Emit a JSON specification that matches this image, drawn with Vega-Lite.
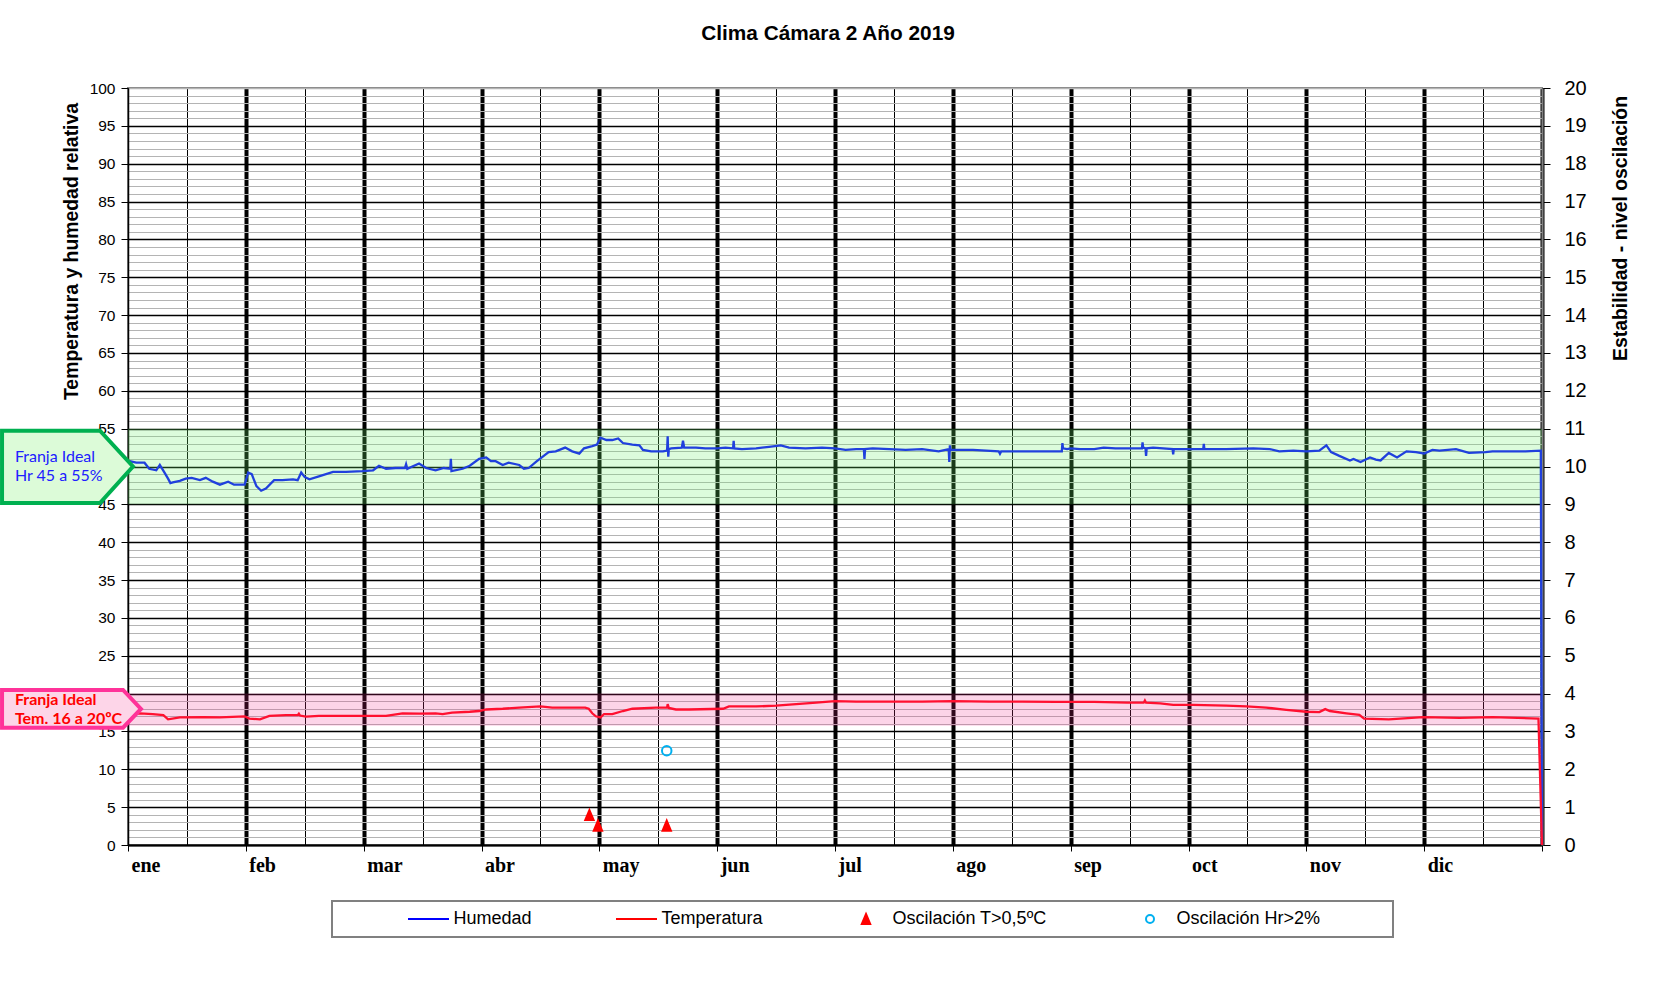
{
  "$schema": "https://vega.github.io/schema/vega-lite/v6.json",
  "width": 1414,
  "height": 757,
  "autosize": "none",
  "padding": {"left": 128, "top": 88, "right": 118, "bottom": 150},
  "background": "#ffffff",
  "title": {"text": "Clima Cámara 2 Año 2019", "anchor": "middle", "frame": "group", "offset": 17, "dx": -7, "baseline": "alphabetic", "font": "Liberation Sans", "fontSize": 20.8, "fontWeight": "bold", "color": "#000000"},
  "config": {
    "view": {"stroke": "#808080", "strokeWidth": 2},
    "legend": {"strokeColor": "#808080", "strokeWidth": 2}
  },
  "datasets": {
    "hum": [
      {"m":0,"v":50.8},{"m":0.014,"v":50.7},{"m":0.07,"v":50.5},{"m":0.14,"v":50.5},{"m":0.18,"v":49.7},{"m":0.24,"v":49.5},{"m":0.27,"v":50.2},{"m":0.31,"v":49.2},{"m":0.34,"v":48.4},{"m":0.36,"v":47.8},{"m":0.38,"v":47.9},{"m":0.44,"v":48.1},{"m":0.49,"v":48.4},{"m":0.54,"v":48.5},{"m":0.61,"v":48.2},{"m":0.66,"v":48.5},{"m":0.72,"v":48.0},{"m":0.78,"v":47.6},{"m":0.85,"v":48.0},{"m":0.9,"v":47.6},{"m":0.99,"v":47.6},{"m":1.02,"v":49.2},{"m":1.05,"v":49.0},{"m":1.09,"v":47.4},{"m":1.13,"v":46.8},{"m":1.17,"v":47.1},{"m":1.24,"v":48.2},{"m":1.31,"v":48.2},{"m":1.4,"v":48.3},{"m":1.44,"v":48.2},{"m":1.47,"v":49.2},{"m":1.5,"v":48.6},{"m":1.54,"v":48.3},{"m":1.62,"v":48.7},{"m":1.74,"v":49.3},{"m":1.85,"v":49.3},{"m":1.99,"v":49.4},{"m":2.08,"v":49.5},{"m":2.13,"v":50.1},{"m":2.19,"v":49.7},{"m":2.27,"v":49.8},{"m":2.35,"v":49.8},{"m":2.36,"v":50.3},{"m":2.37,"v":49.7},{"m":2.47,"v":50.4},{"m":2.53,"v":49.8},{"m":2.61,"v":49.5},{"m":2.68,"v":49.8},{"m":2.735,"v":49.7},{"m":2.74,"v":51.0},{"m":2.745,"v":49.4},{"m":2.84,"v":49.7},{"m":2.9,"v":50.1},{"m":2.98,"v":51.0},{"m":3.04,"v":51.2},{"m":3.08,"v":50.7},{"m":3.12,"v":50.7},{"m":3.18,"v":50.2},{"m":3.23,"v":50.5},{"m":3.32,"v":50.2},{"m":3.36,"v":49.7},{"m":3.4,"v":49.8},{"m":3.47,"v":50.7},{"m":3.57,"v":51.9},{"m":3.63,"v":52.0},{"m":3.71,"v":52.5},{"m":3.77,"v":52.0},{"m":3.83,"v":51.7},{"m":3.87,"v":52.4},{"m":3.94,"v":52.7},{"m":3.98,"v":52.9},
      {"m":4.01,"v":53.8},{"m":4.06,"v":53.5},{"m":4.11,"v":53.5},{"m":4.16,"v":53.7},{"m":4.2,"v":53.1},{"m":4.28,"v":52.9},{"m":4.34,"v":52.8},{"m":4.37,"v":52.2},{"m":4.44,"v":52.0},{"m":4.54,"v":52.0},{"m":4.575,"v":52.1},{"m":4.58,"v":54.0},{"m":4.585,"v":51.3},{"m":4.59,"v":52.3},{"m":4.61,"v":52.4},{"m":4.7,"v":52.5},{"m":4.71,"v":53.4},{"m":4.72,"v":52.5},{"m":4.82,"v":52.5},{"m":4.9,"v":52.4},{"m":5.0,"v":52.4},{"m":5.07,"v":52.5},{"m":5.135,"v":52.4},{"m":5.14,"v":53.4},{"m":5.145,"v":52.4},{"m":5.21,"v":52.3},{"m":5.33,"v":52.4},{"m":5.44,"v":52.6},{"m":5.54,"v":52.8},{"m":5.61,"v":52.5},{"m":5.75,"v":52.4},{"m":5.89,"v":52.5},{"m":6.0,"v":52.4},{"m":6.09,"v":52.2},{"m":6.18,"v":52.3},{"m":6.245,"v":52.3},{"m":6.25,"v":51.0},{"m":6.255,"v":52.3},{"m":6.32,"v":52.4},{"m":6.46,"v":52.3},{"m":6.6,"v":52.2},{"m":6.74,"v":52.3},{"m":6.88,"v":52.0},{"m":6.965,"v":52.3},{"m":6.97,"v":50.6},{"m":6.975,"v":52.8},{"m":6.98,"v":52.2},{"m":7.03,"v":52.2},{"m":7.17,"v":52.2},{"m":7.39,"v":52.0},{"m":7.4,"v":51.7},{"m":7.41,"v":52.0},{"m":7.59,"v":52.0},{"m":7.87,"v":52.0},{"m":7.925,"v":52.0},{"m":7.93,"v":53.1},{"m":7.935,"v":52.4},{"m":7.97,"v":52.3},
      {"m":8.0,"v":52.4},{"m":8.08,"v":52.3},{"m":8.2,"v":52.3},{"m":8.28,"v":52.5},{"m":8.38,"v":52.4},{"m":8.48,"v":52.4},{"m":8.605,"v":52.4},{"m":8.61,"v":53.2},{"m":8.615,"v":52.5},{"m":8.635,"v":52.4},{"m":8.64,"v":51.4},{"m":8.645,"v":52.4},{"m":8.7,"v":52.5},{"m":8.865,"v":52.3},{"m":8.87,"v":51.6},{"m":8.875,"v":52.3},{"m":9.0,"v":52.3},{"m":9.125,"v":52.3},{"m":9.13,"v":53.0},{"m":9.135,"v":52.3},{"m":9.32,"v":52.3},{"m":9.55,"v":52.4},{"m":9.69,"v":52.3},{"m":9.77,"v":52.0},{"m":9.89,"v":52.1},{"m":10.0,"v":52.0},{"m":10.11,"v":52.1},{"m":10.17,"v":52.8},{"m":10.21,"v":51.9},{"m":10.28,"v":51.4},{"m":10.37,"v":50.8},{"m":10.4,"v":51.0},{"m":10.46,"v":50.6},{"m":10.54,"v":51.2},{"m":10.59,"v":50.9},{"m":10.63,"v":50.8},{"m":10.7,"v":51.8},{"m":10.77,"v":51.2},{"m":10.85,"v":52.0},{"m":10.93,"v":51.9},{"m":11.0,"v":51.7},{"m":11.07,"v":52.2},{"m":11.13,"v":52.1},{"m":11.27,"v":52.3},{"m":11.38,"v":51.8},{"m":11.52,"v":51.9},{"m":11.58,"v":52.0},{"m":11.72,"v":52.0},{"m":11.86,"v":52.0},{"m":11.99,"v":52.1},{"m":12.0,"v":0}
    ],
    "tem": [
      {"m":0,"v":17.3},{"m":0.1,"v":17.4},{"m":0.21,"v":17.3},{"m":0.3,"v":17.15},{"m":0.34,"v":16.6},{"m":0.44,"v":16.85},{"m":0.64,"v":16.9},{"m":0.78,"v":16.85},{"m":0.99,"v":17.0},{"m":1.03,"v":16.7},{"m":1.12,"v":16.6},{"m":1.2,"v":17.05},{"m":1.34,"v":17.15},{"m":1.44,"v":17.15},{"m":1.45,"v":17.35},{"m":1.46,"v":17.1},{"m":1.51,"v":16.95},{"m":1.62,"v":17.05},{"m":1.77,"v":17.05},{"m":1.99,"v":17.05},{"m":2.19,"v":17.05},{"m":2.33,"v":17.4},{"m":2.47,"v":17.35},{"m":2.61,"v":17.4},{"m":2.67,"v":17.3},{"m":2.75,"v":17.5},{"m":2.9,"v":17.6},{"m":2.98,"v":17.7},{"m":3.04,"v":17.9},{"m":3.18,"v":18.0},{"m":3.32,"v":18.15},{"m":3.5,"v":18.3},{"m":3.6,"v":18.15},{"m":3.88,"v":18.15},{"m":3.91,"v":18.0},{"m":3.94,"v":17.4},{"m":3.97,"v":17.0},{"m":4.01,"v":16.85},{"m":4.04,"v":17.3},{"m":4.11,"v":17.3},{"m":4.2,"v":17.7},{"m":4.28,"v":18.0},{"m":4.48,"v":18.15},{"m":4.575,"v":18.15},{"m":4.58,"v":18.6},{"m":4.59,"v":18.1},{"m":4.65,"v":17.9},{"m":4.76,"v":17.9},{"m":5.05,"v":18.0},{"m":5.1,"v":18.3},{"m":5.33,"v":18.3},{"m":5.5,"v":18.4},{"m":5.67,"v":18.6},{"m":5.84,"v":18.8},{"m":6.0,"v":19.0},{"m":6.18,"v":18.95},{"m":6.46,"v":18.95},{"m":6.74,"v":18.95},{"m":7.0,"v":19.0},{"m":7.31,"v":18.95},{"m":7.59,"v":18.95},{"m":7.87,"v":18.9},{"m":8.2,"v":18.9},{"m":8.48,"v":18.8},{"m":8.62,"v":18.8},{"m":8.63,"v":19.1},{"m":8.64,"v":18.8},{"m":8.76,"v":18.7},{"m":8.87,"v":18.5},{"m":9.04,"v":18.5},{"m":9.32,"v":18.4},{"m":9.49,"v":18.3},{"m":9.66,"v":18.15},{"m":9.83,"v":17.85},{"m":10.0,"v":17.6},{"m":10.11,"v":17.55},{"m":10.16,"v":17.95},{"m":10.2,"v":17.7},{"m":10.34,"v":17.4},{"m":10.45,"v":17.2},{"m":10.49,"v":16.7},{"m":10.7,"v":16.6},{"m":10.99,"v":16.9},{"m":11.3,"v":16.8},{"m":11.58,"v":16.9},{"m":11.97,"v":16.7},{"m":12.0,"v":0}
    ],
    "osc": [
      {"m":3.916,"v":0.79,"serie":"Oscilación T>0,5ºC"},
      {"m":3.988,"v":0.51,"serie":"Oscilación T>0,5ºC"},
      {"m":4.572,"v":0.51,"serie":"Oscilación T>0,5ºC"},
      {"m":4.572,"v":2.49,"serie":"Oscilación Hr>2%"}
    ]
  },
  "resolve": {"scale": {"y": "independent"}, "axis": {"y": "independent"}},
  "layer": [
    {
      "layer": [
        {
          "data": {"values": [{"m":0,"m2":12,"v":45,"v2":55}]},
          "mark": {"type": "rect", "color": "#6cf26c", "opacity": 0.24},
          "encoding": {
            "x": {"field": "m", "type": "quantitative", "scale": {"domain": [0, 12], "nice": false, "zero": false},
              "axis": {
                "title": null,
                "values": [0,0.5,1,1.5,2,2.5,3,3.5,4,4.5,5,5.5,6,6.5,7,7.5,8,8.5,9,9.5,10,10.5,11,11.5,12],
                "tickCount": 25,
                "grid": true, "gridColor": "#000000", "gridOpacity": 1,
                "gridWidth": {"condition": {"test": "datum.value % 1 === 0 && datum.value > 0", "value": 4}, "value": 1},
                "domainColor": "#000000", "domainWidth": 2,
                "tickColor": "#000000", "tickSize": 6, "tickWidth": 1,
                "tickOpacity": {"condition": {"test": "datum.value % 1 !== 0", "value": 0}, "value": 1},
                "labelExpr": "datum.value % 1 === 0 && datum.value < 12 ? ['ene','feb','mar','abr','may','jun','jul','ago','sep','oct','nov','dic'][datum.value] : ''",
                "labelAlign": "left", "labelBaseline": "alphabetic", "labelPadding": 20, "labelOffset": 3,
                "labelFont": "Liberation Serif", "labelFontWeight": "bold", "labelFontSize": 20, "labelColor": "#000000",
                "labelOverlap": false, "labelFlush": false
              }},
            "x2": {"field": "m2"},
            "y": {"field": "v", "type": "quantitative", "scale": {"domain": [0, 100], "nice": false, "zero": false},
              "axis": {
                "orient": "left",
                "values": [0,1,2,3,4,5,6,7,8,9,10,11,12,13,14,15,16,17,18,19,20,21,22,23,24,25,26,27,28,29,30,31,32,33,34,35,36,37,38,39,40,41,42,43,44,45,46,47,48,49,50,51,52,53,54,55,56,57,58,59,60,61,62,63,64,65,66,67,68,69,70,71,72,73,74,75,76,77,78,79,80,81,82,83,84,85,86,87,88,89,90,91,92,93,94,95,96,97,98,99,100],
                "tickCount": 101,
                "grid": true, "gridOpacity": 1,
                "gridColor": {"condition": {"test": "datum.value % 5 === 0 && datum.value < 100", "value": "#000000"}, "value": "#b4b4b4"},
                "gridWidth": {"condition": {"test": "datum.value % 5 === 0", "value": 1.3}, "value": 1},
                "domainColor": "#000000", "domainWidth": 1.5,
                "tickColor": "#000000", "tickSize": 7, "tickWidth": 1,
                "tickOpacity": {"condition": {"test": "datum.value % 5 !== 0", "value": 0}, "value": 1},
                "labelExpr": "datum.value % 5 === 0 ? datum.label : ''",
                "labelFont": "Liberation Sans", "labelFontSize": 15.5, "labelColor": "#000000", "labelPadding": 6,
                "labelOverlap": false, "labelFlush": false,
                "title": "Temperatura y humedad relativa", "titleFont": "Liberation Sans", "titleFontSize": 19.4, "titleFontWeight": "bold", "titleColor": "#000000",
                "titleX": -57, "titleY": 163, "titleAngle": -90, "titleAlign": "center", "titleBaseline": "middle"
              }},
            "y2": {"field": "v2"}
          }
        },
        {
          "data": {"values": [{"m":0,"m2":12,"v":15.75,"v2":20}]},
          "mark": {"type": "rect", "color": "#f0288c", "opacity": 0.2},
          "encoding": {
            "x": {"field": "m", "type": "quantitative", "scale": {"domain": [0, 12], "nice": false, "zero": false}},
            "x2": {"field": "m2"},
            "y": {"field": "v", "type": "quantitative", "scale": {"domain": [0, 100], "nice": false, "zero": false}},
            "y2": {"field": "v2"}
          }
        },
        {
          "data": {"name": "hum"},
          "mark": {"type": "line", "color": "#2040dd", "strokeWidth": 2.3},
          "encoding": {
            "x": {"field": "m", "type": "quantitative", "scale": {"domain": [0, 12], "nice": false, "zero": false}},
            "y": {"field": "v", "type": "quantitative", "scale": {"domain": [0, 100], "nice": false, "zero": false}}
          }
        },
        {
          "data": {"name": "tem"},
          "mark": {"type": "line", "color": "#ff1030", "strokeWidth": 2.3},
          "encoding": {
            "x": {"field": "m", "type": "quantitative", "scale": {"domain": [0, 12], "nice": false, "zero": false}},
            "y": {"field": "v", "type": "quantitative", "scale": {"domain": [0, 100], "nice": false, "zero": false}}
          }
        },
        {
          "data": {"values": [{"m":-1.069,"v":54.73,"v2":45.18},{"m":-0.238,"v":54.73,"v2":45.18},{"m":0.042,"v":50,"v2":50}]},
          "mark": {"type": "area", "fill": "#dcfbd8", "fillOpacity": 1, "stroke": "#00b050", "strokeWidth": 4, "strokeJoin": "miter"},
          "encoding": {
            "x": {"field": "m", "type": "quantitative", "scale": {"domain": [0, 12], "nice": false, "zero": false}},
            "y": {"field": "v", "type": "quantitative", "scale": {"domain": [0, 100], "nice": false, "zero": false}},
            "y2": {"field": "v2"}
          }
        },
        {
          "data": {"values": [{"m":-1.069,"v":20.48,"v2":15.5},{"m":-0.042,"v":20.48,"v2":15.5},{"m":0.11,"v":17.97,"v2":17.97}]},
          "mark": {"type": "area", "fill": "#fdd5e8", "fillOpacity": 1, "stroke": "#ff3399", "strokeWidth": 4, "strokeJoin": "miter"},
          "encoding": {
            "x": {"field": "m", "type": "quantitative", "scale": {"domain": [0, 12], "nice": false, "zero": false}},
            "y": {"field": "v", "type": "quantitative", "scale": {"domain": [0, 100], "nice": false, "zero": false}},
            "y2": {"field": "v2"}
          }
        },
        {
          "data": {"values": [{"m":-0.96,"v":51.3,"t":"Franja Ideal"},{"m":-0.96,"v":48.7,"t":"Hr 45 a 55%"}]},
          "mark": {"type": "text", "align": "left", "baseline": "middle", "font": "Lato", "fontSize": 16, "color": "#2020ff"},
          "encoding": {
            "x": {"field": "m", "type": "quantitative", "scale": {"domain": [0, 12], "nice": false, "zero": false}},
            "y": {"field": "v", "type": "quantitative", "scale": {"domain": [0, 100], "nice": false, "zero": false}},
            "text": {"field": "t"}
          }
        },
        {
          "data": {"values": [{"m":-0.96,"v":19.15,"t":"Franja Ideal"},{"m":-0.96,"v":16.6,"t":"Tem. 16 a 20ºC"}]},
          "mark": {"type": "text", "align": "left", "baseline": "middle", "font": "Lato", "fontSize": 16, "fontWeight": "bold", "color": "#ff0000"},
          "encoding": {
            "x": {"field": "m", "type": "quantitative", "scale": {"domain": [0, 12], "nice": false, "zero": false}},
            "y": {"field": "v", "type": "quantitative", "scale": {"domain": [0, 100], "nice": false, "zero": false}},
            "text": {"field": "t"}
          }
        }
      ]
    },
    {
      "data": {"name": "osc"},
      "mark": {"type": "point", "filled": false, "strokeWidth": 2, "opacity": 1},
      "encoding": {
        "x": {"field": "m", "type": "quantitative", "scale": {"domain": [0, 12], "nice": false, "zero": false}},
        "y": {"field": "v", "type": "quantitative", "scale": {"domain": [0, 20], "nice": false, "zero": false},
          "axis": {
            "orient": "right",
            "values": [0,1,2,3,4,5,6,7,8,9,10,11,12,13,14,15,16,17,18,19,20],
            "tickCount": 21,
            "grid": false,
            "domainColor": "#808080", "domainWidth": 2,
            "tickColor": "#000000", "tickSize": 8, "tickWidth": 1,
            "labelFont": "Liberation Sans", "labelFontSize": 20, "labelColor": "#000000", "labelPadding": 14,
            "labelOverlap": false, "labelFlush": false,
            "title": "Estabilidad - nivel oscilación", "titleFont": "Liberation Sans", "titleFontSize": 19.4, "titleFontWeight": "bold", "titleColor": "#000000",
            "titleX": 78, "titleY": 140, "titleAngle": -90, "titleAlign": "center", "titleBaseline": "middle"
          }},
        "color": {"field": "serie", "type": "nominal",
          "scale": {"domain": ["Humedad", "Temperatura", "Oscilación T>0,5ºC", "Oscilación Hr>2%"], "range": ["#0000ff", "#ff0000", "#ff0000", "#00b0f0"]},
          "legend": {
            "orient": "none", "legendX": 204, "legendY": 813, "direction": "horizontal", "columns": 4, "columnPadding": 84,
            "title": "MMMMMMMMMMMMMMMMMMMMMMMM", "titleOrient": "left", "titleOpacity": 0, "titleLimit": 66, "titleFontSize": 18, "titlePadding": 5,
            "symbolSize": 64, "symbolStrokeWidth": 2, "symbolOffset": 10,
            "labelFont": "Liberation Sans", "labelFontSize": 18, "labelColor": "#000000", "labelOffset": 17.4, "labelLimit": 400,
            "labelExpr": "datum.label === 'Oscilación Hr>2%' ? datum.label + '\u2800\u2800\u2800\u2800\u2800' : datum.label",
            "clipHeight": 20, "padding": 8, "strokeColor": "#808080", "fillColor": "#ffffff"
          }},
        "shape": {"field": "serie", "type": "nominal",
          "scale": {"domain": ["Humedad", "Temperatura", "Oscilación T>0,5ºC", "Oscilación Hr>2%"], "range": ["M-4.75,0H5.5", "M-4.75,0H5.5", "M0,-1.25L1.05,1.25L-1.05,1.25Z M0,-1.1V1.25 M-0.45,-0.1V1.25 M0.45,-0.1V1.25 M-0.8,0.7V1.25 M0.8,0.7V1.25", "circle"]}},
        "fill": {"condition": {"test": "datum.serie === 'Oscilación T>0,5ºC'", "value": "#ff0000"}, "value": "transparent"},
        "size": {"condition": {"test": "datum.serie === 'Oscilación Hr>2%'", "value": 90}, "value": 64}
      }
    }
  ]
}
